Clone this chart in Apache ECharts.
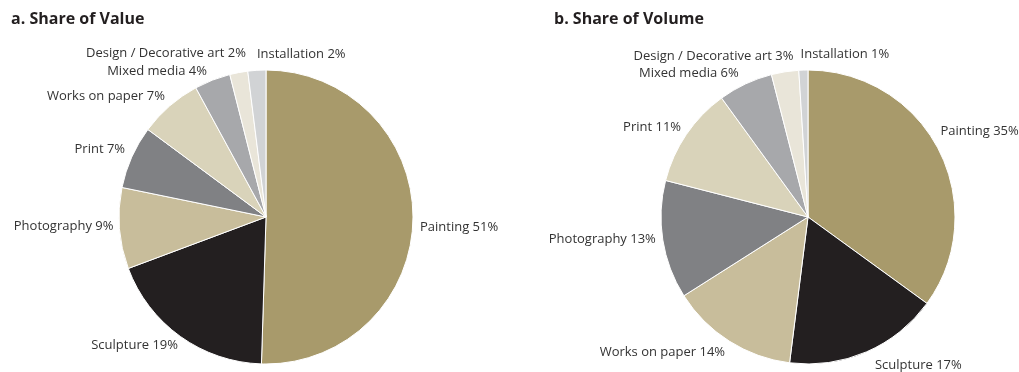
<!DOCTYPE html>
<html>
<head>
<meta charset="utf-8">
<script src="https://cdn.jsdelivr.net/npm/echarts@6/dist/echarts.min.js"></script>
<style>
  html, body { margin: 0; padding: 0; background: #fff; }
  #chart { width: 1019px; height: 372px; }
</style>
</head>
<body>
<div id="chart"></div>
<script>
// slice colours, by position clockwise from 12 o'clock
const sliceColors = ['#a89a6b', '#231f20', '#c8bd9b', '#808184', '#d9d3ba', '#a7a8ab', '#e9e5d9', '#d1d3d5'];

const valueNames = ['Painting', 'Sculpture', 'Photography', 'Print', 'Works on paper', 'Mixed media', 'Design / Decorative art', 'Installation'];
const valueShares = [51, 19, 9, 7, 7, 4, 2, 2];

const volumeNames = ['Painting', 'Sculpture', 'Works on paper', 'Photography', 'Print', 'Mixed media', 'Design / Decorative art', 'Installation'];
const volumeShares = [35, 17, 14, 13, 11, 6, 3, 1];

// small nudges to the automatic label spots [dx, dy]
const valueNudge = [[-2, 8], [5, 6], [3, -2], [2, -6], [3, -7], [1, -5], [13, -15], [94, -12]];
const volumeNudge = [[-7, -17], [2, 10], [3, 8], [2, -1], [3, -5], [0, -7], [14, -12], [91, -12]];

const fontFamily = 'Open Sans';

function pieSeries(names, shares, center, nudge) {
  return {
    type: 'pie',
    center: center,
    radius: 147,
    startAngle: 90,
    clockwise: true,
    silent: true,
    avoidLabelOverlap: false,
    itemStyle: { borderColor: '#fff', borderWidth: 1 },
    label: {
      show: true,
      position: 'outside',
      formatter: p => p.name + ' ' + p.value + '%',
      color: '#333',
      fontFamily: fontFamily,
      fontSize: 13,
      overflow: 'none'
    },
    labelLine: { show: false, length: 4, length2: 0 },
    labelLayout: p => ({ dx: nudge[p.dataIndex][0], dy: nudge[p.dataIndex][1], hideOverlap: false }),
    data: names.map((n, i) => ({
      name: n,
      value: shares[i],
      itemStyle: { color: sliceColors[i] }
    }))
  };
}

const chart = echarts.init(document.getElementById('chart'));
chart.setOption({
  animation: false,
  title: [
    { text: 'a. Share of Value', left: 6, top: 6,
      textStyle: { fontFamily: fontFamily, fontSize: 16, fontWeight: 'bold', color: '#231f20' } },
    { text: 'b. Share of Volume', left: 549, top: 6,
      textStyle: { fontFamily: fontFamily, fontSize: 16, fontWeight: 'bold', color: '#231f20' } }
  ],
  series: [
    pieSeries(valueNames, valueShares, [266, 217], valueNudge),
    pieSeries(volumeNames, volumeShares, [808, 217], volumeNudge)
  ]
});
</script>
</body>
</html>
